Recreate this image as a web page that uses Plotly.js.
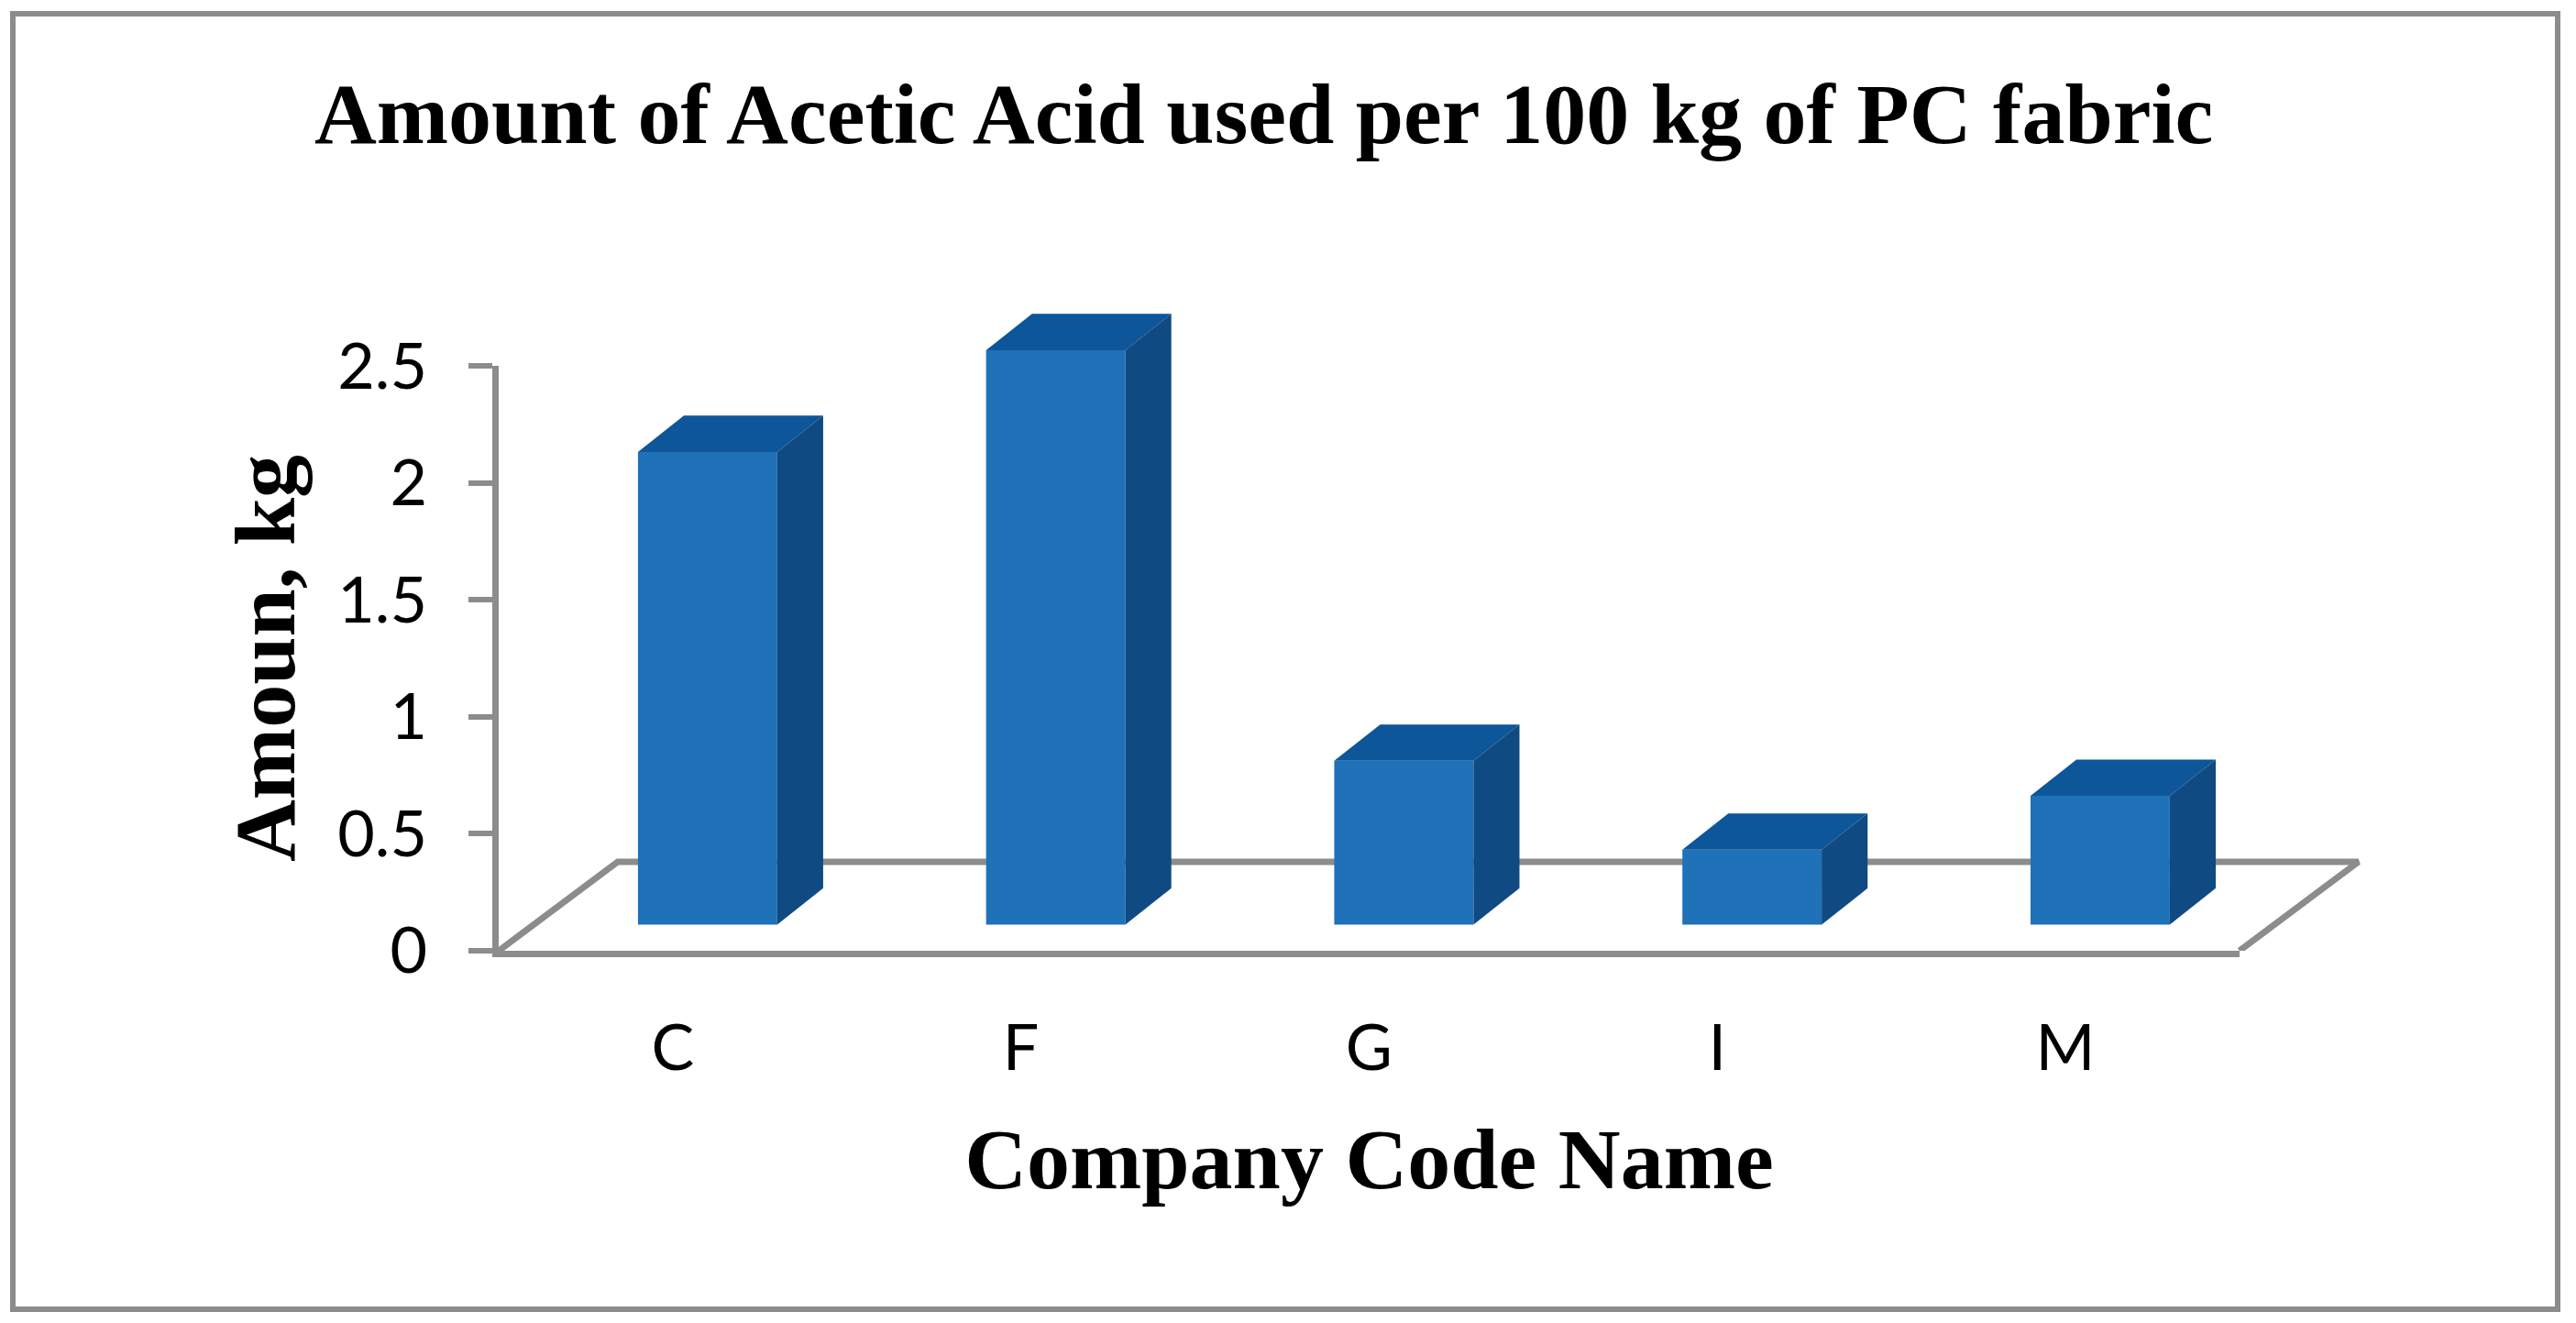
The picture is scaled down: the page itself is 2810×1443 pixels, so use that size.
<!DOCTYPE html>
<html>
<head>
<meta charset="utf-8">
<script src="https://cdn.plot.ly/plotly-3.0.1.min.js"></script>
<style>html,body{margin:0;padding:0;background:#fff}</style>
</head>
<body>
<div id="chart" style="width:2810px;height:1443px"></div>
<script>
const categories = ['C', 'F', 'G', 'I', 'M'];
const amounts = [2.02, 2.455, 0.7, 0.32, 0.55];
const yTickValues = [0, 0.5, 1, 1.5, 2, 2.5];
const yTickLabels = ['0', '0.5', '1', '1.5', '2', '2.5'];

const chartTitle = 'Amount of Acetic Acid used per 100 kg of PC fabric';
const xTitle = 'Company Code Name';
const yTitle = 'Amoun, kg';

// projection of the 3-D box, in axis units
const barBase = 0.112, barShift = 0.1, barWidth = 0.4;
const depthX = 0.132, depthY = 0.155;
const floorDepthX = 0.342, floorDepthY = 0.38;

// visible axes cover 0-2.5 and the five categories; the marks' hidden axes
// run on with the same scale so the floor and the bar tops are not clipped
const xWide = [-0.5, 4.848], yWide = [0, 2.888];
const xDomain = [0, 5 / 5.348], yDomain = [0, 2.5 / 2.888];

const GREY = '#8c8c8c', FRONT = '#1f71b8', TOP = '#0d5699', SIDE = '#104a82';
const idx = categories.map((_, i) => i);

const traces = [{
  type: 'scatter', mode: 'none', xaxis: 'x', yaxis: 'y',
  x: idx, y: amounts, hoverinfo: 'skip', showlegend: false
}, {
  type: 'scatter', mode: 'lines', xaxis: 'x2', yaxis: 'y2',
  x: [-0.5, -0.5 + floorDepthX, 4.5 + floorDepthX, 4.5],
  y: [0, floorDepthY, floorDepthY, 0],
  line: {color: GREY, width: 7}, hoverinfo: 'skip', showlegend: false
}, {
  type: 'bar', xaxis: 'x3', yaxis: 'y3',
  x: idx.map(i => i + barShift), y: amounts, base: barBase, width: barWidth,
  marker: {color: FRONT, line: {width: 0}}, showlegend: false
}];

amounts.forEach((v, i) => {
  const l = i + barShift - barWidth / 2, r = l + barWidth, b = barBase, t = barBase + v;
  traces.push({
    type: 'scatter', mode: 'none', fill: 'toself', fillcolor: TOP, xaxis: 'x3', yaxis: 'y3',
    x: [l, l + depthX, r + depthX, r, l], y: [t, t + depthY, t + depthY, t, t],
    hoverinfo: 'skip', showlegend: false
  });
  traces.push({
    type: 'scatter', mode: 'none', fill: 'toself', fillcolor: SIDE, xaxis: 'x3', yaxis: 'y3',
    x: [r, r + depthX, r + depthX, r, r], y: [t, t + depthY, b + depthY, b, t],
    hoverinfo: 'skip', showlegend: false
  });
});

const hiddenAxis = (range, extra) => Object.assign({range, visible: false, fixedrange: true}, extra);
const titleFont = {family: 'Liberation Serif', size: 94, color: '#000', weight: 700};
const tickFont = {family: 'Lato', size: 70, color: '#000'};

const layout = {
  width: 2810, height: 1443,
  paper_bgcolor: '#fff', plot_bgcolor: 'rgba(0,0,0,0)',
  margin: {l: 544, r: 235, t: 300, b: 406, pad: 0},
  showlegend: false,
  title: {
    text: chartTitle, xref: 'container', yref: 'container', x: 0.4906, xanchor: 'center',
    y: 0.915, yanchor: 'middle',
    font: titleFont
  },
  xaxis: {
    domain: xDomain, anchor: 'y',
    range: [-0.5, 4.5], tickmode: 'array', tickvals: idx, ticktext: categories,
    showgrid: false, zeroline: false, showline: true, linecolor: GREY, linewidth: 7,
    ticks: '', ticklabelstandoff: 39, tickfont: tickFont,
    title: {text: xTitle, standoff: 52, font: titleFont}
  },
  yaxis: {
    domain: yDomain, anchor: 'x',
    range: [0, 2.5], tickmode: 'array', tickvals: yTickValues, ticktext: yTickLabels,
    showgrid: false, zeroline: false, showline: true, linecolor: GREY, linewidth: 7,
    ticks: 'outside', ticklen: 26, tickwidth: 6, tickcolor: GREY, ticklabelstandoff: 31, tickfont: tickFont,
    title: {text: yTitle, standoff: 18, font: titleFont}
  },
  xaxis2: hiddenAxis(xWide, {domain: [0, 1], anchor: 'y2'}),
  yaxis2: hiddenAxis(yWide, {domain: [0, 1], anchor: 'x2'}),
  xaxis3: hiddenAxis(xWide, {overlaying: 'x2', anchor: 'y3'}),
  yaxis3: hiddenAxis(yWide, {overlaying: 'y2', anchor: 'x3'}),
  shapes: [{
    type: 'rect', xref: 'paper', yref: 'paper', layer: 'below',
    x0: (14 - 544) / 2031, x1: (2790 - 544) / 2031,
    y0: (1037 - 1428) / 737, y1: (1037 - 15) / 737,
    line: {color: GREY, width: 6}, fillcolor: 'rgba(0,0,0,0)'
  }]
};

Plotly.newPlot('chart', traces, layout, {displayModeBar: false, responsive: false});
</script>
</body>
</html>
